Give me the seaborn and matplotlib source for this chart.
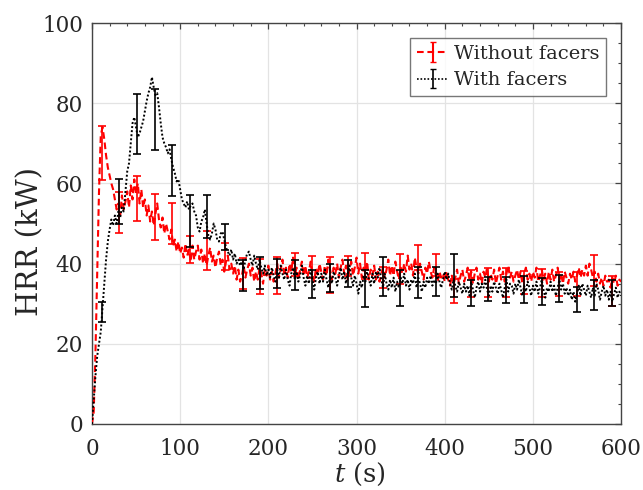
import numpy as np
import pandas as pd
import matplotlib
matplotlib.use("Agg")
import matplotlib.pyplot as plt
import seaborn as sns

# ---------------- data ----------------
time_step = 2  # s between samples
hrr_without = [
    0, 3, 18, 38, 58, 72, 74, 71, 67, 64,
    62, 60, 58.5, 56, 53.5, 55, 52, 57, 53.5, 55.5,
    58, 54, 59.5, 56, 61, 57.5, 60, 55, 58.5, 54,
    56, 52, 54.5, 50.5, 53, 49.5, 52.5, 55, 51, 49,
    51.5, 47.5, 50, 48, 46, 48.5, 44.5, 46, 43, 45.5,
    42.5, 44, 41.5, 45, 42, 43.5, 40.5, 44.5, 41, 43,
    44.5, 41, 43.5, 40, 42.5, 39.5, 42, 44, 40.5, 42,
    39, 41.5, 43, 39.5, 41, 38, 40.5, 42, 38.5, 40,
    37.5, 39.5, 36, 38.5, 35.5, 37, 39.5, 36.5, 38.5, 40,
    37, 39, 35.5, 38, 36, 39, 37.5, 35, 38.5, 37,
    39.5, 36, 38, 35.5, 37.5, 40, 36.5, 38.5, 41, 37,
    39, 36.5, 40, 38, 41.5, 37, 39, 36, 38.5, 40.5,
    37, 39.5, 36.5, 38, 40.5, 37.5, 35.5, 39, 37, 40,
    38, 36, 39.5, 37, 41, 38.5, 36, 39, 37.5, 40,
    36.5, 39, 41, 37.5, 39.5, 36, 38.5, 40.5, 37, 39,
    41.5, 37.5, 40, 36.5, 39, 38, 40.5, 36, 38.5, 37,
    39.5, 36, 38, 35.5, 37.5, 39, 36.5, 38.5, 41, 37,
    39.5, 37, 40.5, 38, 36, 39, 37.5, 40, 38, 42,
    38.5, 40, 37, 41.5, 39, 37.5, 40, 38, 36, 39,
    37.5, 40.5, 38, 36.5, 39, 37, 35.5, 38, 36.5, 37.5,
    35.5, 38, 36, 34.5, 37, 35, 36.5, 38.5, 35, 37,
    38.5, 35.5, 37, 39, 36, 38, 35, 37.5, 39, 36,
    37.5, 35, 38, 36.5, 39, 35.5, 37.5, 36, 38.5, 35,
    37, 39, 36, 38, 35.5, 37.5, 39.5, 36.5, 38, 35.5,
    37, 38.5, 36, 38, 35, 37.5, 39, 36, 37.5, 35.5,
    38, 36.5, 39, 35.5, 37, 38.5, 36, 37.5, 35, 38,
    36, 38.5, 35.5, 37, 39, 36, 37.5, 35, 38, 36.5,
    35, 37.5, 36, 38, 35.5, 37, 39, 36.5, 38.5, 37,
    39.5, 37, 40, 38.5, 36.5, 38, 35.5, 37.5, 35, 36.5,
    34.5, 37, 35.5, 36, 34, 36.5, 35, 37, 34.5, 36,
    35.5,
]
hrr_with = [
    0, 6, 12, 17, 20, 23, 29, 35, 41, 45.5,
    48.5, 51, 49.5, 52, 50, 53, 51.5, 54, 53, 58,
    63, 65, 70, 75, 76.5, 74, 71.5, 72.5, 74, 75.5,
    78, 80.5, 82.5, 84, 86.5, 84, 82, 82.5, 79, 75,
    71.5, 70, 69, 67.5, 68.5, 66, 64, 62.5, 60.5, 61,
    58.5, 56, 55, 54, 55.5, 53.5, 54.5, 55, 53, 52,
    49, 48, 50.5, 51.5, 53.5, 50, 47, 46, 47.5, 50,
    48.5, 46, 45.5, 47.5, 48, 46, 44, 43, 42, 43.5,
    41, 42.5, 40, 41, 39.5, 40.5, 38.5, 41, 42.5, 43,
    41, 39.5, 42, 40, 38.5, 41, 39, 37.5, 39.5, 37,
    38.5, 36.5, 39, 37, 35.5, 38.5, 36.5, 39.5, 37.5, 36,
    38.5, 36, 34.5, 37.5, 39, 36, 38, 35.5, 37, 39.5,
    36.5, 34.5, 37, 35, 38.5, 36, 33.5, 36.5, 38, 35,
    37.5, 35.5, 38.5, 36, 34, 37, 35, 38, 36.5, 34.5,
    37, 39, 36, 38, 35, 37.5, 39.5, 36.5, 34.5, 37,
    35, 32.5, 35.5, 34, 37, 35.5, 38, 36, 34.5, 37.5,
    35, 38, 36.5, 39, 36, 34, 37.5, 35, 33.5, 36,
    34, 36.5, 33, 35.5, 34, 36.5, 35, 37.5, 34.5, 36,
    33.5, 36, 35, 37.5, 34, 36.5, 35, 33, 35.5, 34,
    36.5, 35, 37, 34.5, 36, 35, 37.5, 35.5, 34, 36,
    38, 36, 37.5, 35, 33.5, 36, 34.5, 33, 35.5, 34,
    32.5, 35, 33, 34.5, 32, 35.5, 33.5, 31.5, 34, 35.5,
    33, 35, 34, 36, 33.5, 32, 34.5, 33, 35.5, 34,
    32.5, 35, 33.5, 31.5, 34, 36, 33, 35, 34.5, 32.5,
    35, 33.5, 36, 34, 32, 34.5, 33, 35.5, 34, 32,
    34.5, 33, 35.5, 32.5, 34, 36, 33.5, 31.5, 34, 33,
    35.5, 33, 34.5, 32, 34, 36, 33.5, 35, 32.5, 34,
    32, 33.5, 31, 33, 30.5, 32.5, 34.5, 32, 35, 33.5,
    32, 34.5, 33, 31.5, 34, 32, 35, 33.5, 31, 33,
    34.5, 32, 33.5, 31, 33, 30.5, 32.5, 34, 31.5, 33,
    32,
]
err_t = [11, 31, 51, 71, 91, 111, 131, 151, 171, 190,
         210, 230, 250, 270, 290, 309.5, 329.5, 349, 370, 390,
         410, 430, 449, 469, 490, 510, 530, 549.5, 569.5, 589.5]
err_without_mean = [67.5, 52.7, 56.2, 51.6, 50.0, 43.5, 43.3, 41.8, 37.5, 36.8,
                    37.0, 39.8, 39.1, 37.2, 39.4, 39.4, 36.5, 38.7, 41.5, 39.6,
                    33.1, 35.0, 35.2, 35.2, 35.3, 35.2, 35.0, 35.0, 38.3, 33.2]
err_without_sd = [6.7, 5.1, 5.6, 5.7, 5.0, 3.3, 4.9, 3.4, 3.9, 4.3,
                  4.6, 2.8, 2.8, 4.5, 2.5, 3.3, 2.7, 3.7, 3.1, 2.8,
                  3.0, 3.3, 3.6, 3.6, 2.9, 3.5, 3.0, 3.0, 3.9, 3.7]
err_with_mean = [28.0, 55.5, 74.8, 76.0, 63.3, 50.6, 51.7, 46.6, 37.0, 37.6,
                 37.5, 37.2, 34.9, 36.5, 37.5, 33.9, 36.7, 33.9, 35.3, 35.5,
                 37.0, 32.7, 33.7, 33.4, 33.5, 33.0, 33.8, 31.1, 32.2, 32.7]
err_with_sd = [2.5, 5.5, 7.5, 7.6, 6.4, 6.4, 5.3, 3.3, 3.8, 4.0,
               3.6, 3.7, 3.5, 3.5, 3.4, 4.6, 4.9, 4.5, 3.9, 3.6,
               5.3, 3.3, 3.0, 3.3, 3.4, 3.3, 3.3, 3.1, 3.7, 3.2]
labels = ["Without facers", "With facers"]

# ---------------- style ----------------
sns.set_theme(style="white")
plt.rcParams["font.family"] = ["DejaVu Serif"]
plt.rcParams["mathtext.fontset"] = "dejavuserif"

fig = plt.figure(figsize=(6.43, 4.90), dpi=100)
ax = fig.add_axes([0.143, 0.1347, 0.823, 0.8183])

t_without = [i * time_step for i in range(len(hrr_without))]
t_with = [i * time_step for i in range(len(hrr_with))]
df_wo = pd.DataFrame({"t": t_without, "HRR": hrr_without})
df_w = pd.DataFrame({"t": t_with, "HRR": hrr_with})

red_dash = (0, (3.2, 1.8))
black_dot = (0, (1, 1.1))
sns.lineplot(data=df_wo, x="t", y="HRR", ax=ax, color="#ff0000",
             linestyle=red_dash, linewidth=1.5, zorder=3)
ax.errorbar(err_t, err_without_mean, yerr=err_without_sd, fmt="none",
            ecolor="#ff0000", elinewidth=1.2, capsize=2.8, capthick=1.2, zorder=4)
sns.lineplot(data=df_w, x="t", y="HRR", ax=ax, color="black",
             linestyle=black_dot, linewidth=1.4, zorder=5)
ax.errorbar(err_t, err_with_mean, yerr=err_with_sd, fmt="none",
            ecolor="black", elinewidth=1.2, capsize=2.8, capthick=1.2, zorder=6)

# legend handles (line + errorbar glyph)
h1 = ax.errorbar([np.nan], [np.nan], yerr=[1], color="#ff0000",
                 linestyle=red_dash, linewidth=1.5, capsize=2.5, label=labels[0])
h2 = ax.errorbar([np.nan], [np.nan], yerr=[1], color="black",
                 linestyle=black_dot, linewidth=1.2, capsize=2.5, label=labels[1])
leg = ax.legend(handles=[h1, h2], loc="upper right", fontsize=14,
                frameon=True, fancybox=False, edgecolor="#555555",
                handlelength=1.6, handletextpad=0.3, borderpad=0.35,
                labelspacing=0.45, borderaxespad=0,
                bbox_to_anchor=(0.972, 0.963))
leg.get_frame().set_linewidth(1.0)

ax.set_xlim(0, 600)
ax.set_ylim(0, 100)
ax.set_xticks([0, 100, 200, 300, 400, 500, 600])
ax.set_yticks([0, 20, 40, 60, 80, 100])
ax.set_xticks(np.arange(0, 601, 20), minor=True)
ax.set_yticks(np.arange(0, 101, 5), minor=True)
ax.grid(True, which="major", color="#e3e3e3", linewidth=0.9)
ax.set_axisbelow(True)
ax.tick_params(which="both", direction="in", top=True, right=True,
               color="#444444", labelsize=15.5)
ax.tick_params(axis="x", which="major", pad=10)
ax.tick_params(axis="y", which="major", pad=6.5)
ax.tick_params(which="major", length=4, width=0.9)
ax.tick_params(which="minor", length=2.5, width=0.8)
for s in ax.spines.values():
    s.set_color("#444444")
    s.set_linewidth(1.0)

ax.set_xlabel(r"$t$ (s)", fontsize=18.5)
ax.xaxis.set_label_coords(0.507, -0.125)
ax.xaxis.label.set_va("center")
ax.set_ylabel("HRR (kW)", fontsize=21)
ax.yaxis.set_label_coords(-0.117, 0.455)
ax.yaxis.label.set_va("center")

fig.savefig("out.png", dpi=100)
